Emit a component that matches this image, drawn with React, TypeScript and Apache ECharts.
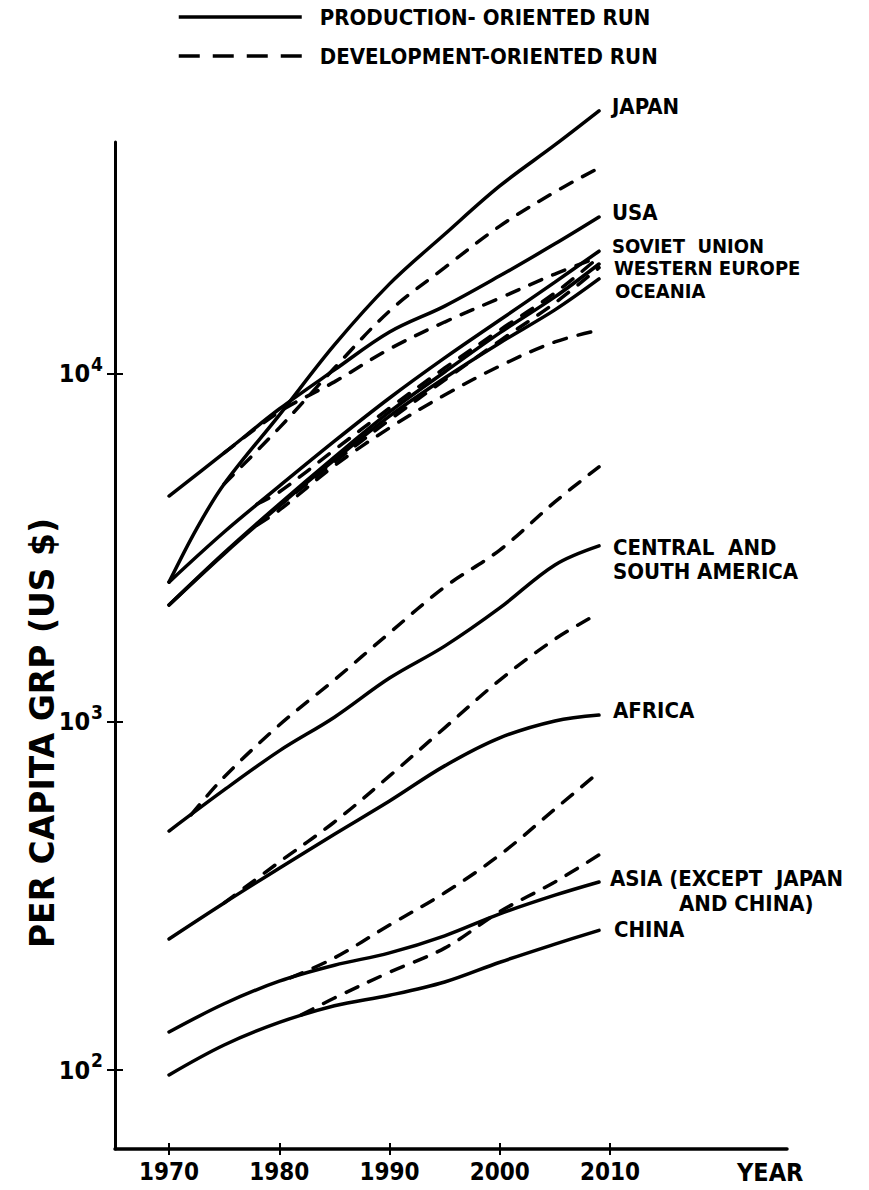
import React, { useEffect, useRef } from "react";
import * as echarts from "echarts";

// ---------- data ----------
const YEARS = [1970, 1975, 1980, 1985, 1990, 1995, 2000, 2005, 2009];
const TICK_YEARS = [1970, 1980, 1990, 2000, 2010];
const Y_TICKS = [100, 1000, 10000];

// production-oriented run (solid)
const japanProdYears = [1970, 1972.5, 1975, 1980, 1985, 1990, 1995, 2000, 2005, 2009];
const japanProd = [2523, 3590, 4830, 7620, 12120, 18150, 25200, 34700, 45500, 57000];
const usaProd = [4460, 5930, 7930, 10270, 13200, 15670, 19140, 23650, 28250];
const sovietProd = [2523, 3515, 4760, 6410, 8530, 11120, 14290, 18360, 22530];
const westEuropeProd = [2168, 3062, 4230, 5770, 7780, 10130, 13120, 16650, 20700];
const oceaniaProd = [2168, 3041, 4180, 5660, 7570, 9740, 12280, 15280, 18750];
const latinAmericaProd = [486, 638, 826, 1032, 1337, 1652, 2127, 2826, 3206];
const africaProd = [238, 302, 380, 476, 593, 748, 900, 1007, 1047];
const asiaProd = [128.6, 155, 180, 200, 217, 243, 281, 318, 347];
const chinaProd = [96.8, 118, 137, 153, 164, 179, 204, 230, 252];

// development-oriented run (dashed)
const japanDevYears = [1975, 1980, 1985, 1990, 1995, 2000, 2005, 2009];
const japanDev = [4830, 7000, 10400, 15170, 20200, 26600, 33350, 39100];
const usaDevYears = [1975, 1980, 1985, 1990, 1995, 2000, 2005, 2009];
const usaDev = [5930, 7780, 9490, 11800, 14100, 16520, 19370, 21680];
const sovietDevYears = [1978, 1980, 1985, 1990, 1995, 2000, 2005, 2009];
const sovietDev = [4230, 4580, 6050, 7980, 10400, 13370, 17100, 21680];
const westEuropeDevYears = [1978, 1980, 1985, 1990, 1995, 2000, 2005, 2009];
const westEuropeDev = [3710, 4180, 5580, 7380, 9610, 12450, 16000, 20200];
const oceaniaDevYears = [1978, 1980, 1985, 1990, 1995, 2000, 2005, 2009];
const oceaniaDev = [3680, 4060, 5450, 7000, 8700, 10540, 12360, 13370];
const latinAmericaDevYears = [1972, 1975, 1980, 1985, 1990, 1995, 2000, 2005, 2009];
const latinAmericaDev = [541, 695, 980, 1321, 1803, 2443, 3120, 4290, 5410];
const africaDevYears = [1975, 1980, 1985, 1990, 1995, 2000, 2005, 2009];
const africaDev = [302, 396, 516, 700, 962, 1320, 1730, 2056];
const asiaDevYears = [1981, 1985, 1990, 1995, 2000, 2005, 2009];
const asiaDev = [184, 210, 261, 323, 415, 562, 718];
const chinaDevYears = [1982, 1985, 1990, 1995, 2000, 2005, 2009];
const chinaDev = [144, 161, 191, 224, 285, 347, 415];

const PROD_NAME = "PRODUCTION- ORIENTED RUN";
const DEV_NAME = "DEVELOPMENT-ORIENTED RUN";

const REGION_LABELS = [
  { text: "JAPAN", x: 612, y: 106, size: 22 },
  { text: "USA", x: 612, y: 212, size: 22 },
  { text: "SOVIET  UNION", x: 612, y: 246, size: 20 },
  { text: "WESTERN EUROPE", x: 614, y: 268, size: 20 },
  { text: "OCEANIA", x: 615, y: 291, size: 20 },
  { text: "CENTRAL  AND", x: 613, y: 547, size: 22 },
  { text: "SOUTH AMERICA", x: 613, y: 571, size: 22 },
  { text: "AFRICA", x: 613, y: 710, size: 22 },
  { text: "ASIA (EXCEPT  JAPAN", x: 610, y: 878, size: 22 },
  { text: "AND CHINA)", x: 679, y: 903, size: 22 },
  { text: "CHINA", x: 614, y: 929, size: 22 },
];

// ---------- styling ----------
const FONT_NARROW = "'Liberation Sans Narrow', 'DejaVu Sans Condensed', sans-serif";
const FONT_LABEL = "'DejaVu Sans Condensed', 'DejaVu Sans', sans-serif";
const INK = "#000";
const LINE_W = 3.5;
const DASH = [13, 12];

const pairs = (years: number[], values: number[]) => years.map((y, i) => [y, values[i]]);

const mk = (name: string, years: number[], values: number[], dashed: boolean) => ({
  type: "line",
  name,
  data: pairs(years, values),
  smooth: 0.35,
  symbol: "none",
  clip: false,
  silent: true,
  z: dashed ? 3 : 2,
  lineStyle: {
    color: INK,
    width: LINE_W,
    type: dashed ? DASH : "solid",
    cap: "round",
  },
});

const X_MIN = 1965.1;
const X_MAX = 2026.05;
const Y_MIN = 59.3;
const Y_MAX = 46400;

function buildOption() {
  const yBase = {
    type: "log",
    logBase: 10,
    min: Y_MIN,
    max: Y_MAX,
    position: "left",
    splitLine: { show: false },
  };
  const xBase = {
    type: "value",
    min: X_MIN,
    max: X_MAX,
    position: "bottom",
    splitLine: { show: false },
  };
  return {
    animation: false,
    backgroundColor: "#fff",
    grid: { left: 115, right: 82, top: 142, bottom: 41, containLabel: false },
    legend: {
      orient: "vertical",
      left: 177,
      top: 6,
      padding: 0,
      itemWidth: 123,
      itemHeight: 24,
      itemGap: 17,
      selectedMode: false,
      data: [PROD_NAME, DEV_NAME],
      itemStyle: { color: "transparent", borderWidth: 0 },
      lineStyle: { color: INK, width: LINE_W },
      textStyle: {
        fontFamily: FONT_LABEL,
        fontSize: 22,
        fontWeight: "bold",
        color: INK,
        padding: [0, 0, 0, 13],
      },
    },
    xAxis: [
      {
        ...xBase,
        axisLine: { show: true, onZero: false, lineStyle: { color: INK, width: 3.5 } },
        axisTick: { show: true, length: 6, customValues: TICK_YEARS, lineStyle: { color: INK, width: 2 } },
        axisLabel: {
          customValues: TICK_YEARS,
          formatter: (v: number) => String(Math.round(v)),
          fontFamily: FONT_NARROW,
          fontSize: 24,
          fontWeight: "bold",
          color: INK,
          margin: 11,
        },
      },
      {
        ...xBase,
        axisLine: { show: false },
        axisTick: { show: true, inside: true, length: 6, customValues: TICK_YEARS, lineStyle: { color: INK, width: 2 } },
        axisLabel: { show: false },
      },
    ],
    yAxis: [
      {
        ...yBase,
        axisLine: { show: true, onZero: false, lineStyle: { color: INK, width: 3 } },
        axisTick: { show: true, length: 8, customValues: Y_TICKS, lineStyle: { color: INK, width: 2 } },
        axisLabel: {
          customValues: Y_TICKS,
          margin: 12,
          formatter: (v: number) => `{b|10}{s|${Math.round(Math.log10(v))}}`,
          rich: {
            b: { fontFamily: FONT_NARROW, fontSize: 25, fontWeight: "bold", color: INK },
            s: { fontFamily: FONT_NARROW, fontSize: 19, fontWeight: "bold", color: INK, padding: [0, 0, 20, 1] },
          },
        },
      },
      {
        ...yBase,
        axisLine: { show: false },
        axisTick: { show: true, inside: true, length: 8, customValues: Y_TICKS, lineStyle: { color: INK, width: 2 } },
        axisLabel: { show: false },
      },
    ],
    graphic: [
      ...REGION_LABELS.map((l) => ({
        type: "text",
        x: l.x,
        y: l.y,
        silent: true,
        style: {
          text: l.text,
          fill: INK,
          fontFamily: FONT_LABEL,
          fontSize: l.size,
          lineHeight: 19,
          fontWeight: "bold",
          verticalAlign: "middle",
          align: "left",
        },
      })),
      {
        type: "text",
        x: 737,
        y: 1172,
        silent: true,
        style: {
          text: "YEAR",
          fill: INK,
          fontFamily: FONT_NARROW,
          fontSize: 25,
          fontWeight: "bold",
          verticalAlign: "middle",
          align: "left",
        },
      },
      {
        type: "text",
        x: 42,
        y: 733,
        rotation: Math.PI / 2,
        silent: true,
        style: {
          text: "PER CAPITA GRP (US $)",
          fill: INK,
          fontFamily: "'DejaVu Sans', sans-serif",
          fontSize: 33,
          fontWeight: "bold",
          verticalAlign: "middle",
          align: "center",
        },
      },
    ],
    series: [
      { type: "line", name: PROD_NAME, data: [], symbol: "none", itemStyle: { color: INK }, lineStyle: { color: INK, width: LINE_W, type: "solid" } },
      { type: "line", name: DEV_NAME, data: [], symbol: "none", itemStyle: { color: INK }, lineStyle: { color: INK, width: LINE_W, type: [21, 13] } },
      mk("Japan (production)", japanProdYears, japanProd, false),
      mk("USA (production)", YEARS, usaProd, false),
      mk("Soviet Union (production)", YEARS, sovietProd, false),
      mk("Western Europe (production)", YEARS, westEuropeProd, false),
      mk("Oceania (production)", YEARS, oceaniaProd, false),
      mk("Central and South America (production)", YEARS, latinAmericaProd, false),
      mk("Africa (production)", YEARS, africaProd, false),
      mk("Asia (production)", YEARS, asiaProd, false),
      mk("China (production)", YEARS, chinaProd, false),
      mk("Japan (development)", japanDevYears, japanDev, true),
      mk("USA (development)", usaDevYears, usaDev, true),
      mk("Soviet Union (development)", sovietDevYears, sovietDev, true),
      mk("Western Europe (development)", westEuropeDevYears, westEuropeDev, true),
      mk("Oceania (development)", oceaniaDevYears, oceaniaDev, true),
      mk("Central and South America (development)", latinAmericaDevYears, latinAmericaDev, true),
      mk("Africa (development)", africaDevYears, africaDev, true),
      mk("Asia (development)", asiaDevYears, asiaDev, true),
      mk("China (development)", chinaDevYears, chinaDev, true),
    ],
  };
}

export default function App() {
  const ref = useRef<HTMLDivElement>(null);
  useEffect(() => {
    if (!ref.current) return;
    const chart = echarts.init(ref.current, undefined, { renderer: "svg" });
    chart.setOption(buildOption() as any);
    return () => chart.dispose();
  }, []);
  return (
    <div
      ref={ref}
      style={{ position: "absolute", left: 0, top: 0, width: 869, height: 1190, background: "#fff" }}
    />
  );
}
